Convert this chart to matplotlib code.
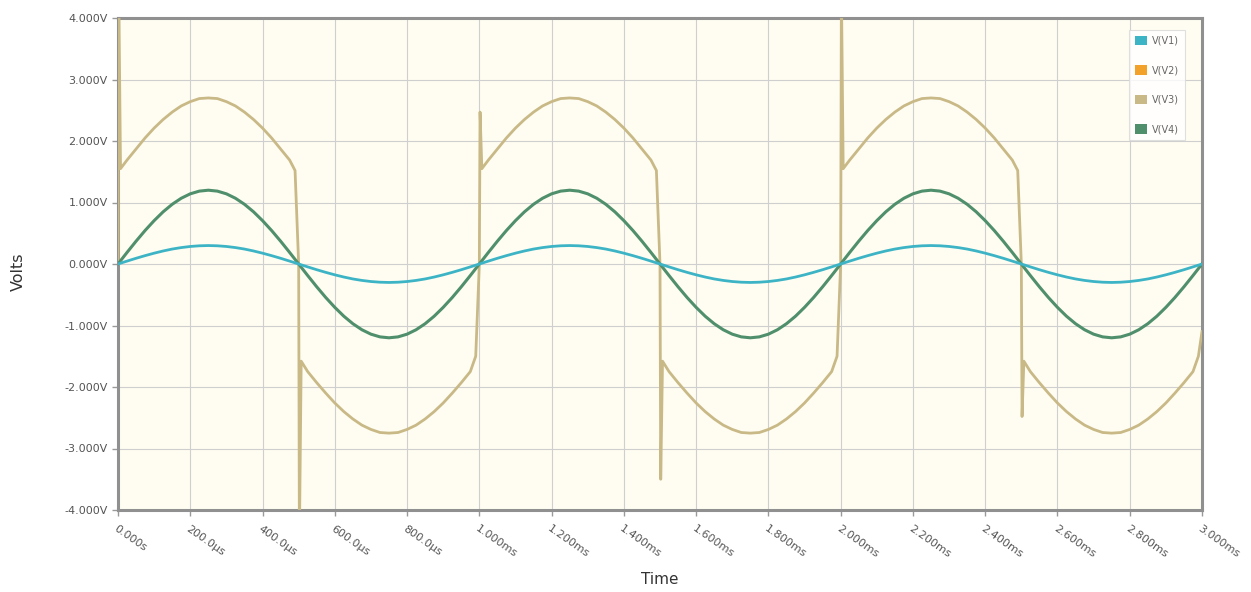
import matplotlib
matplotlib.use('Agg')
from matplotlib import pyplot as plt
from matplotlib.patches import Patch
import numpy as np

# One period (1 ms) of the sine traces, read every 25 us
period_t = [0.000, 0.025, 0.050, 0.075, 0.100, 0.125, 0.150, 0.175, 0.200, 0.225,
            0.250, 0.275, 0.300, 0.325, 0.350, 0.375, 0.400, 0.425, 0.450, 0.475,
            0.500, 0.525, 0.550, 0.575, 0.600, 0.625, 0.650, 0.675, 0.700, 0.725,
            0.750, 0.775, 0.800, 0.825, 0.850, 0.875, 0.900, 0.925, 0.950, 0.975]
v1_period = [0.000, 0.047, 0.093, 0.136, 0.176, 0.212, 0.243, 0.267, 0.285, 0.296,
             0.300, 0.296, 0.285, 0.267, 0.243, 0.212, 0.176, 0.136, 0.093, 0.047,
             0.000, -0.047, -0.093, -0.136, -0.176, -0.212, -0.243, -0.267, -0.285, -0.296,
             -0.300, -0.296, -0.285, -0.267, -0.243, -0.212, -0.176, -0.136, -0.093, -0.047]
v4_period = [0.000, 0.188, 0.371, 0.545, 0.705, 0.849, 0.971, 1.069, 1.141, 1.185,
             1.200, 1.185, 1.141, 1.069, 0.971, 0.849, 0.705, 0.545, 0.371, 0.188,
             0.000, -0.188, -0.371, -0.545, -0.705, -0.849, -0.971, -1.069, -1.141, -1.185,
             -1.200, -1.185, -1.141, -1.069, -0.971, -0.849, -0.705, -0.545, -0.371, -0.188]

# V(V3): half-cycle shapes (after the switching spike) and the spike peaks
half_t = [0.000, 0.002, 0.007, 0.025, 0.050, 0.075, 0.100, 0.125, 0.150, 0.175,
          0.200, 0.225, 0.250, 0.275, 0.300, 0.325, 0.350, 0.375, 0.400, 0.425,
          0.450, 0.475, 0.490]
v3_pos_half = [1.55, 1.69, 1.87, 2.05, 2.21, 2.35, 2.47, 2.57, 2.64, 2.69,
               2.70, 2.69, 2.64, 2.57, 2.47, 2.35, 2.21, 2.05, 1.87, 1.69, 1.52]
v3_neg_half = [-1.58, -1.75, -1.93, -2.10, -2.26, -2.40, -2.52, -2.62, -2.69, -2.74,
               -2.75, -2.74, -2.69, -2.62, -2.52, -2.40, -2.26, -2.10, -1.93, -1.75, -1.50]
spike_peaks = [4.50, -4.50, 2.47, -3.50, 4.50, -2.48]   # at 0, 0.5, 1.0 ... 2.5 ms
v3_end = -1.10                                          # value at 3.000 ms

series_names = ['V(V1)', 'V(V2)', 'V(V3)', 'V(V4)']
series_colors = ['#3db4c6', '#f2a22b', '#c9b987', '#4f8f6c']

x_ticks = [0.0, 0.2, 0.4, 0.6, 0.8, 1.0, 1.2, 1.4, 1.6, 1.8, 2.0, 2.2, 2.4, 2.6, 2.8, 3.0]
x_labels = ['0.000s', '200.0µs', '400.0µs', '600.0µs', '800.0µs', '1.000ms', '1.200ms',
            '1.400ms', '1.600ms', '1.800ms', '2.000ms', '2.200ms', '2.400ms', '2.600ms',
            '2.800ms', '3.000ms']
y_ticks = [-4, -3, -2, -1, 0, 1, 2, 3, 4]
y_labels = ['-4.000V', '-3.000V', '-2.000V', '-1.000V', '0.000V', '1.000V', '2.000V',
            '3.000V', '4.000V']

# assemble the 3 ms traces
t_sin = [k + t for k in range(3) for t in period_t] + [3.0]
v1 = v1_period * 3 + [0.0]
v4 = v4_period * 3 + [0.0]

t3, v3 = [], []
for i, peak in enumerate(spike_peaks):
    start = 0.5 * i
    shape = v3_pos_half if peak > 0 else v3_neg_half
    t3 += [start + t for t in half_t]
    v3 += [0.0, peak] + shape
t3.append(3.0)
v3.append(v3_end)

fig = plt.figure(figsize=(12.51, 5.92), dpi=100)
ax = fig.add_axes([118 / 1251, 82 / 592, 1084 / 1251, 492 / 592])
ax.set_facecolor('#fffdf1')

ax.plot(t3, v3, color=series_colors[2], lw=2.0, zorder=3)
ax.plot(t_sin, v4, color=series_colors[3], lw=2.2, zorder=4)
ax.plot(t_sin, v1, color=series_colors[0], lw=2.0, zorder=5)

ax.set_xlim(0, 3.0)
ax.set_ylim(-4, 4)
ax.set_xticks(x_ticks)
ax.set_xticklabels(x_labels, rotation=-35, ha='left', va='top', rotation_mode='anchor')
ax.set_yticks(y_ticks)
ax.set_yticklabels(y_labels)
ax.tick_params(axis='both', colors='#999999', labelcolor='#555555', labelsize=8,
               length=4, width=1)
ax.tick_params(axis='x', pad=6)
ax.grid(True, color='#cfcfcf', lw=0.8)
ax.set_axisbelow(True)
for s in ax.spines.values():
    s.set_color('#909090')
    s.set_linewidth(2.2)

fig.text(18 / 1251, 1 - 272 / 592, 'Volts', rotation=90, ha='center', va='center',
         fontsize=11.5, color='#333333')
fig.text(660 / 1251, 1 - 579 / 592, 'Time', ha='center', va='center',
         fontsize=11, color='#333333')

handles = [Patch(facecolor=c, edgecolor='none') for c in series_colors]
leg = ax.legend(handles, series_names, loc='upper right',
                bbox_to_anchor=(1 - 17 / 1084, 1 - 12 / 492), borderaxespad=0,
                fontsize=7, labelcolor='#666666', handlelength=1.3, handleheight=1.1,
                handletextpad=0.5, labelspacing=2.0, frameon=True, fancybox=False,
                borderpad=0.6)
leg.get_frame().set_edgecolor('#d8d8d8')
leg.get_frame().set_facecolor('#ffffff')
leg.get_frame().set_linewidth(0.8)

fig.savefig('out.png', dpi=100)
